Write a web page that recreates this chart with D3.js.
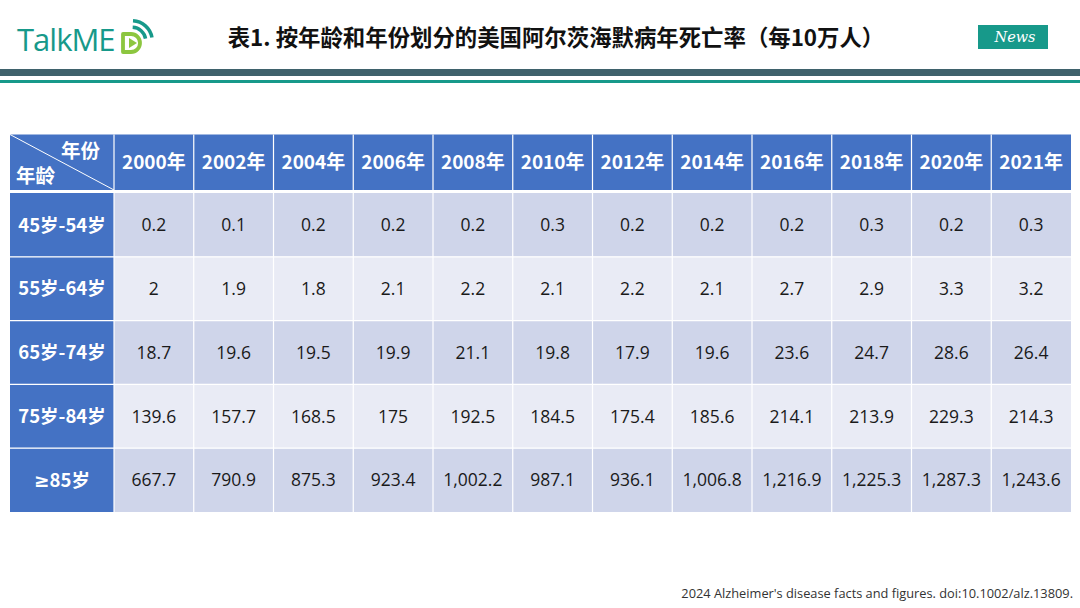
<!DOCTYPE html>
<html><head><meta charset="utf-8">
<script src="https://cdn.jsdelivr.net/npm/d3@7/dist/d3.min.js"></script>
<style>
html,body{margin:0;padding:0;background:#fff;}
svg{display:block;}
</style></head>
<body>
<svg id="chart" width="1080" height="608"></svg>
<script>
// ---- data ----
const title = "表1. 按年龄和年份划分的美国阿尔茨海默病年死亡率（每10万人）";
const years = ["2000年","2002年","2004年","2006年","2008年","2010年","2012年","2014年","2016年","2018年","2020年","2021年"];
const ageGroups = ["45岁-54岁","55岁-64岁","65岁-74岁","75岁-84岁","≥85岁"];
const rate45_54 = [0.2,0.1,0.2,0.2,0.2,0.3,0.2,0.2,0.2,0.3,0.2,0.3];
const rate55_64 = [2,1.9,1.8,2.1,2.2,2.1,2.2,2.1,2.7,2.9,3.3,3.2];
const rate65_74 = [18.7,19.6,19.5,19.9,21.1,19.8,17.9,19.6,23.6,24.7,28.6,26.4];
const rate75_84 = [139.6,157.7,168.5,175,192.5,184.5,175.4,185.6,214.1,213.9,229.3,214.3];
const rate85plus = [667.7,790.9,875.3,923.4,1002.2,987.1,936.1,1006.8,1216.9,1225.3,1287.3,1243.6];
const cornerYear = "年份", cornerAge = "年龄";
const source = "2024 Alzheimer's disease facts and figures. doi:10.1002/alz.13809.";

const rows = [rate45_54, rate55_64, rate65_74, rate75_84, rate85plus];

// ---- drawing ----
const svg = d3.select("#chart");
const CJK = "'Noto Sans CJK SC','Noto Sans',sans-serif";
const teal = "#17998a";

// header band lines
svg.append("rect").attr("x",0).attr("y",69).attr("width",1080).attr("height",7).attr("fill","#3f626c");
svg.append("rect").attr("x",0).attr("y",80).attr("width",1080).attr("height",3).attr("fill",teal);

// logo
const logo = svg.append("g");
logo.append("text").attr("x",17).attr("y",51).attr("font-family","'Open Sans','Noto Sans',sans-serif")
  .attr("font-size",31).attr("fill",teal).attr("letter-spacing",-1).text("TalkME");
const dx = 121, dy = 32;
logo.append("path").attr("d",`M${dx+2},${dy+2} L${dx+10},${dy+2} A9,9 0 0 1 ${dx+10},${dy+20} L${dx+2},${dy+20} Z`)
  .attr("fill","none").attr("stroke","#8cc63f").attr("stroke-width",3.8).attr("stroke-linejoin","round");
logo.append("path").attr("d",`M${dx+8},${dy+6} L${dx+16},${dy+11} L${dx+8},${dy+16} Z`).attr("fill","#8cc63f");
const arc = d3.arc();
[[12,15.5],[18.5,22]].forEach(([r0,r1])=>{
  logo.append("path").attr("transform",`translate(${dx+11},${dy+9})`)
    .attr("d",arc({innerRadius:r0,outerRadius:r1,startAngle:0.05,endAngle:1.4})).attr("fill",teal);
});

// title
svg.append("text").attr("x",556).attr("y",46).attr("text-anchor","middle")
  .attr("font-family",CJK).attr("font-weight","bold").attr("font-size",22.4).attr("fill","#111").text(title);

// News badge
svg.append("rect").attr("x",978).attr("y",25).attr("width",70).attr("height",24).attr("fill",teal);
svg.append("text").attr("x",1015).attr("y",42).attr("text-anchor","middle")
  .attr("font-family","'DejaVu Serif',serif").attr("font-style","italic").attr("font-size",14.5).attr("fill","#fff").text("News");

// table
const tableLeft = 10, tableRight = 1071, firstColRight = 114;
const headTop = 134.5, headBottom = 190, bodyTop = 193, bodyBottom = 512;
const x = d3.scaleBand().domain(years).range([firstColRight, tableRight]);
const y = d3.scaleBand().domain(ageGroups).range([bodyTop, bodyBottom]);

const headerBlue = "#4472c4";
svg.append("rect").attr("x",tableLeft).attr("y",headTop).attr("width",tableRight-tableLeft).attr("height",headBottom-headTop).attr("fill",headerBlue);
const bodyG = svg.append("g");
ageGroups.forEach((ag,i)=>{
  const fill = i%2===0 ? "#cfd5ea" : "#e9ebf5";
  bodyG.append("rect").attr("x",tableLeft).attr("y",y(ag)).attr("width",firstColRight-tableLeft).attr("height",y.bandwidth()).attr("fill",headerBlue);
  bodyG.selectAll(null).data(rows[i]).join("rect")
    .attr("x",(d,j)=>x(years[j])).attr("y",y(ag)).attr("width",x.bandwidth()).attr("height",y.bandwidth()).attr("fill",fill);
});
const gridG = svg.append("g").attr("stroke","#fff").attr("stroke-width",1.2);
years.forEach(yr=>{
  gridG.append("line").attr("x1",x(yr)).attr("x2",x(yr)).attr("y1",headTop).attr("y2",bodyBottom);
});
ageGroups.slice(1).forEach(ag=>{
  gridG.append("line").attr("x1",tableLeft).attr("x2",tableRight).attr("y1",y(ag)).attr("y2",y(ag));
});
svg.append("rect").attr("x",tableLeft).attr("y",headBottom).attr("width",tableRight-tableLeft).attr("height",bodyTop-headBottom).attr("fill","#fff");

// corner diagonal
svg.append("line").attr("x1",tableLeft).attr("y1",headTop).attr("x2",firstColRight).attr("y2",headBottom)
  .attr("stroke","#fff").attr("stroke-width",1);
svg.append("text").attr("x",100).attr("y",158).attr("text-anchor","end").attr("font-family",CJK).attr("font-weight","bold")
  .attr("font-size",19.5).attr("fill","#fff").text(cornerYear);
svg.append("text").attr("x",16).attr("y",183).attr("font-family",CJK).attr("font-weight","bold")
  .attr("font-size",19.5).attr("fill","#fff").text(cornerAge);

// header labels
svg.append("g").selectAll("text").data(years).join("text")
  .attr("x",d=>x(d)+x.bandwidth()/2).attr("y",(headTop+headBottom)/2).attr("dy","0.36em")
  .attr("text-anchor","middle").attr("font-family",CJK).attr("font-weight","bold").attr("font-size",19)
  .attr("fill","#fff").text(d=>d);

// row labels (≥ in a font with the straight-bar glyph)
const rl = svg.append("g").selectAll("text").data(ageGroups).join("text")
  .attr("x",(tableLeft+firstColRight)/2).attr("y",d=>y(d)+y.bandwidth()/2).attr("dy","0.36em")
  .attr("text-anchor","middle").attr("font-family",CJK).attr("font-weight","bold").attr("font-size",18.5)
  .attr("fill","#fff");
rl.each(function(d){
  const t = d3.select(this);
  if (d.startsWith("≥")) {
    t.append("tspan").attr("font-family","'DejaVu Sans',sans-serif").text("≥");
    t.append("tspan").text(d.slice(1));
  } else t.text(d);
});

// values
const fmt = v => v>=1000 ? d3.format(",.1f")(v) : String(v);
ageGroups.forEach((ag,i)=>{
  svg.append("g").selectAll("text").data(rows[i]).join("text")
    .attr("x",(d,j)=>x(years[j])+x.bandwidth()/2).attr("y",y(ag)+y.bandwidth()/2).attr("dy","0.36em")
    .attr("text-anchor","middle").attr("font-family","'Open Sans','Noto Sans',sans-serif").attr("font-size",17.5)
    .attr("fill","#1a1a1a").text(d=>fmt(d));
});

// source
svg.append("text").attr("x",1073).attr("y",598).attr("text-anchor","end")
  .attr("font-family","'Open Sans','Noto Sans',sans-serif").attr("font-size",12.8).attr("fill","#333").text(source);
</script>
</body></html>
